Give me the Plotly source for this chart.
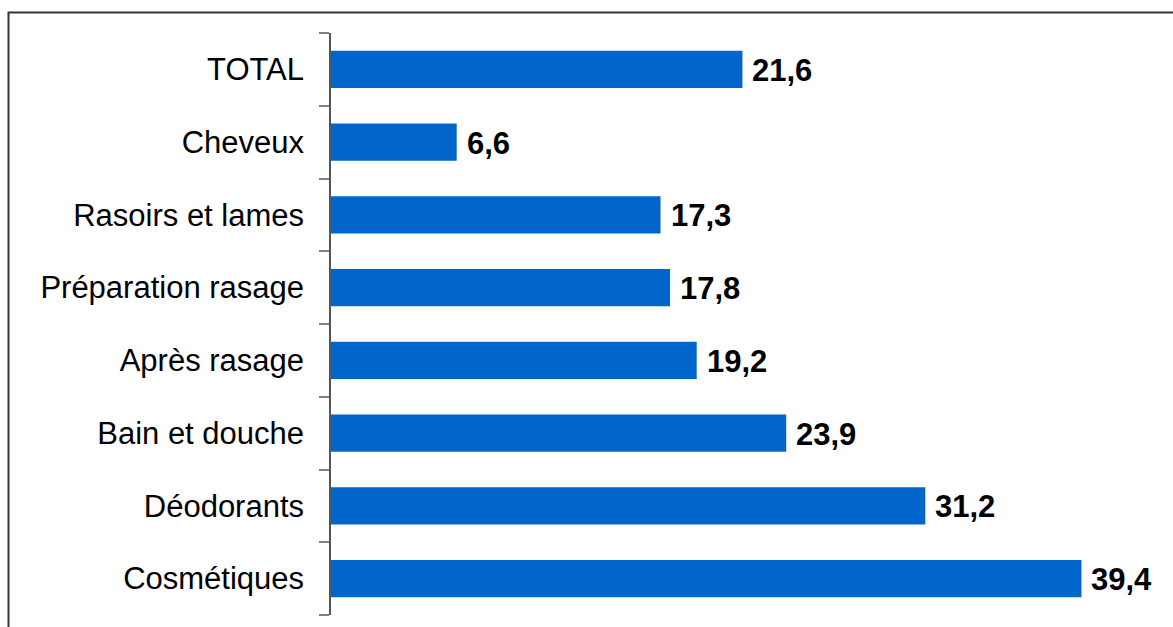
import plotly.graph_objects as go

# Categories listed top to bottom
categories = ["TOTAL", "Cheveux", "Rasoirs et lames", "Préparation rasage",
              "Après rasage", "Bain et douche", "Déodorants", "Cosmétiques"]
values = [21.6, 6.6, 17.3, 17.8, 19.2, 23.9, 31.2, 39.4]

W, H = 1173, 627
ml, mr, mt, mb = 331, 42, 33, 12
x_max = 42.0

labels = [f"{v:.1f}".replace(".", ",") for v in values]

fig = go.Figure(go.Bar(
    x=values, y=categories, orientation="h",
    marker=dict(color="#0066CC", line=dict(width=0)),
    width=0.51,
    hoverinfo="skip",
))

for cat, v, lab in zip(categories, values, labels):
    fig.add_annotation(x=v, y=cat, text=f"<b>{lab}</b>", showarrow=False,
                       xanchor="left", yanchor="middle", xshift=8, yshift=-1,
                       font=dict(family="Liberation Sans, Arial", size=31, color="#000"))

# Outer frame (partly outside the page, as in the source layout)
pw = W - ml - mr
ph = H - mt - mb
def px_to_paper_x(px):
    return (px - ml) / pw
def px_to_paper_y(py):
    return 1 - (py - mt) / ph

fig.add_shape(type="rect", xref="paper", yref="paper",
              x0=px_to_paper_x(8.5), x1=px_to_paper_x(W + 20),
              y0=px_to_paper_y(H + 20), y1=px_to_paper_y(12.5),
              line=dict(color="#333333", width=2), fillcolor="rgba(0,0,0,0)",
              layer="below")

fig.update_layout(
    width=W, height=H,
    margin=dict(l=ml, r=mr, t=mt, b=mb, pad=0),
    paper_bgcolor="white", plot_bgcolor="white",
    showlegend=False,
    bargap=0.49,
    font=dict(family="Liberation Sans, Arial", size=31, color="#000"),
    xaxis=dict(range=[0, x_max], visible=False, fixedrange=True),
    yaxis=dict(
        categoryorder="array", categoryarray=categories[::-1],
        showline=True, linecolor="#555555", linewidth=1.5,
        ticks="outside", ticklen=10, tickcolor="#808080", tickwidth=2,
        tickson="boundaries", showgrid=False, zeroline=False,
        ticklabelstandoff=19,
        tickfont=dict(family="Liberation Sans, Arial", size=31, color="#000"),
        fixedrange=True,
    ),
)

fig.write_html("out.html")
